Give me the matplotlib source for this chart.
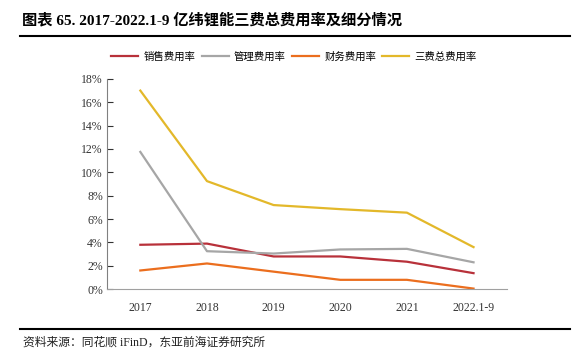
import matplotlib
matplotlib.use("Agg")
import matplotlib.pyplot as plt
from matplotlib.lines import Line2D
from matplotlib.ticker import FuncFormatter

plt.rcParams["font.family"] = ["Liberation Serif", "Noto Sans CJK SC"]

years = ["2017", "2018", "2019", "2020", "2021", "2022.1-9"]
sales = [3.8, 3.9, 2.8, 2.8, 2.35, 1.37]
admin = [11.75, 3.25, 3.05, 3.4, 3.45, 2.3]
finance = [1.6, 2.2, 1.5, 0.8, 0.8, 0.05]
total = [17.0, 9.25, 7.2, 6.85, 6.55, 3.6]

series = [
    ("销售费用率", sales, "#B8313A"),
    ("管理费用率", admin, "#A6A6A6"),
    ("财务费用率", finance, "#EB6E1E"),
    ("三费总费用率", total, "#E3B82A"),
]

fig = plt.figure(figsize=(5.88, 3.57), dpi=100)
ax = fig.add_axes([0.182, 0.19, 0.68, 0.589])

x = range(len(years))
for name, vals, color in series:
    ax.plot(x, vals, color=color, lw=1.6, label=name)

ax.set_xlim(-0.5, 5.5)
ax.set_ylim(0, 18)
ax.set_yticks(range(0, 19, 2))
ax.yaxis.set_major_formatter(FuncFormatter(lambda v, p: f"{v:.0f}%"))
ax.set_xticks(list(x))
ax.set_xticklabels(years)
ax.tick_params(axis="y", direction="in", length=4, labelsize=8.5,
               colors="#333333", pad=3)
ax.tick_params(axis="x", length=0, labelsize=8.5, colors="#333333", pad=9)
for s in ["top", "right"]:
    ax.spines[s].set_visible(False)
ax.spines["left"].set_color("#808080")
ax.spines["bottom"].set_color("#A0A0A0")

fig.legend(loc="center", bbox_to_anchor=(0.5, 0.842), ncol=4, frameon=False,
           handlelength=2.6, columnspacing=0.6, handletextpad=0.5,
           prop={"family": ["Noto Sans CJK SC"], "size": 7.5})

fig.text(0.037, 0.945, "图表 65. 2017-2022.1-9 亿纬锂能三费总费用率及细分情况",
         fontsize=11, fontweight="bold", va="center")
fig.add_artist(Line2D([0.034, 0.97], [0.9, 0.9], color="black", lw=1.5))
fig.add_artist(Line2D([0.034, 0.97], [0.078, 0.078], color="black", lw=1.5))
fig.text(0.039, 0.04, "资料来源：同花顺 iFinD，东亚前海证券研究所",
         fontsize=8.5, va="center", color="#222222")

fig.savefig("out.png", dpi=100)
